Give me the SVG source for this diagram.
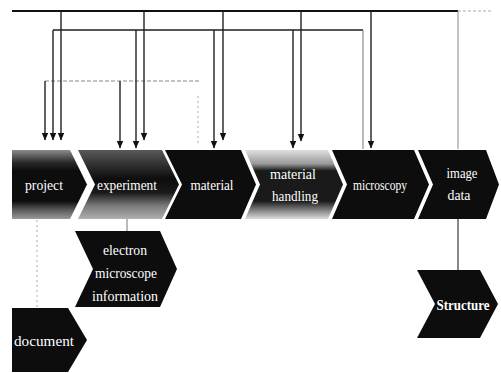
<svg xmlns="http://www.w3.org/2000/svg" width="501" height="373" viewBox="0 0 501 373">
<style>
.lbl{font-family:"Liberation Serif","Times New Roman",serif;font-size:15px;fill:#fff;text-anchor:middle}
.blk{fill:#0d0d0d}
.c{fill:none;stroke:#222;stroke-width:1.4}
.cg{fill:none;stroke:#777;stroke-width:1}
</style>
<defs>
<marker id="ah" markerUnits="userSpaceOnUse" markerWidth="7" markerHeight="8" refX="3.5" refY="7" orient="auto-start-reverse" viewBox="0 0 7 8">
<path d="M0,0 L7,0 L3.5,7.5 Z" fill="#111" transform="rotate(-90 3.5 4) translate(0,0)"/>
</marker>
<marker id="a" markerUnits="userSpaceOnUse" markerWidth="8" markerHeight="8" refX="7" refY="4" orient="auto" viewBox="0 0 8 8">
<path d="M0,0.8 L7.5,4 L0,7.2 Z" fill="#111"/>
</marker>
<linearGradient id="gP" x1="0" y1="0" x2="0" y2="1">
<stop offset="0" stop-color="#8c8c8c"/><stop offset="0.18" stop-color="#2a2a2a"/><stop offset="0.3" stop-color="#0d0d0d"/><stop offset="0.74" stop-color="#0d0d0d"/><stop offset="0.86" stop-color="#555"/><stop offset="1" stop-color="#9a9a9a"/>
</linearGradient>
<linearGradient id="gE" x1="0" y1="0" x2="0" y2="1">
<stop offset="0" stop-color="#5a5a5a"/><stop offset="0.25" stop-color="#2a2a2a"/><stop offset="0.42" stop-color="#0d0d0d"/><stop offset="0.62" stop-color="#1a1a1a"/><stop offset="0.8" stop-color="#777"/><stop offset="1" stop-color="#b0b0b0"/>
</linearGradient>
<linearGradient id="gM" x1="0" y1="0" x2="0" y2="1">
<stop offset="0" stop-color="#e0e0e0"/><stop offset="0.2" stop-color="#999"/><stop offset="0.3" stop-color="#1a1a1a"/><stop offset="0.74" stop-color="#1a1a1a"/><stop offset="0.88" stop-color="#888"/><stop offset="1" stop-color="#dcdcdc"/>
</linearGradient>
</defs>

<g id="connectors">
<path d="M12 11 H458" fill="none" stroke="#111" stroke-width="2"/>
<path d="M458 11 H492" fill="none" stroke="#aaa" stroke-width="1" stroke-dasharray="3 2"/>
<path d="M53 30 H363" fill="none" stroke="#555" stroke-width="1.8"/>
<path d="M363 30 V149" class="cg"/>
<path d="M45 81 H199" fill="none" stroke="#888" stroke-width="1" stroke-dasharray="4 2"/>
<path d="M198 96 V143" fill="none" stroke="#aaa" stroke-width="1" stroke-dasharray="2 3"/>
<path d="M458 11 V149" fill="none" stroke="#888" stroke-width="1"/>
<path d="M61 11 V140" class="c" marker-end="url(#a)"/>
<path d="M53 30 V140" class="c" marker-end="url(#a)"/>
<path d="M45 81 V140" class="c" marker-end="url(#a)"/>
<path d="M120 81 V148" class="c" marker-end="url(#a)"/>
<path d="M136 30 V148" class="c" marker-end="url(#a)"/>
<path d="M144 11 V140" class="c" marker-end="url(#a)"/>
<path d="M214 30 V148" class="c" marker-end="url(#a)"/>
<path d="M223 11 V140" class="c" marker-end="url(#a)"/>
<path d="M293 30 V148" class="c" marker-end="url(#a)"/>
<path d="M301 11 V141" class="c" marker-end="url(#a)"/>
<path d="M371 11 V148" class="c" marker-end="url(#a)"/>
<path d="M127 219 V231" class="cg"/>
<path d="M458 219 V270" fill="none" stroke="#111" stroke-width="1"/>
<path d="M37 220 V308" fill="none" stroke="#aaa" stroke-width="1" stroke-dasharray="2 3"/>
</g>

<g id="project">
<polygon points="12,150 70,150 87,184.5 70,219 12,219" fill="url(#gP)"/>
<text class="lbl" x="44" y="190" textLength="38" lengthAdjust="spacingAndGlyphs">project</text>
</g>
<g id="experiment">
<polygon points="78,150 162,150 179,184.5 162,219 78,219 95,184.5" fill="url(#gE)"/>
<text class="lbl" x="127" y="190" textLength="60" lengthAdjust="spacingAndGlyphs">experiment</text>
</g>
<g id="material">
<polygon class="blk" points="165,150 241,150 256,184.5 241,219 165,219 182,184.5"/>
<text class="lbl" x="212" y="190" textLength="43" lengthAdjust="spacingAndGlyphs">material</text>
</g>
<g id="material-handling">
<polygon points="245,150 328,150 343,184.5 328,219 245,219 260,184.5" fill="url(#gM)"/>
<text class="lbl" x="293" y="179" textLength="46" lengthAdjust="spacingAndGlyphs">material</text>
<text class="lbl" x="295" y="201" textLength="46" lengthAdjust="spacingAndGlyphs">handling</text>
</g>
<g id="microscopy">
<polygon class="blk" points="332,150 414,150 429,184.5 414,219 332,219 347,184.5"/>
<text class="lbl" x="380" y="190" textLength="54" lengthAdjust="spacingAndGlyphs">microscopy</text>
</g>
<g id="image-data">
<polygon class="blk" points="418,150 486,150 499,184.5 486,219 418,219 433,184.5"/>
<text class="lbl" x="462" y="178" textLength="31" lengthAdjust="spacingAndGlyphs">image</text>
<text class="lbl" x="459" y="200" textLength="23" lengthAdjust="spacingAndGlyphs">data</text>
</g>
<g id="electron-microscope-information">
<polygon class="blk" points="75,231 160,231 177,269 160,307 75,307 93,269"/>
<text class="lbl" x="125" y="255" textLength="44" lengthAdjust="spacingAndGlyphs">electron</text>
<text class="lbl" x="126" y="278" textLength="62" lengthAdjust="spacingAndGlyphs">microscope</text>
<text class="lbl" x="125" y="301" textLength="66" lengthAdjust="spacingAndGlyphs">information</text>
</g>
<g id="structure">
<polygon class="blk" points="417,270 480,270 498,304 480,338 417,338 435,304"/>
<text class="lbl" x="463" y="310" textLength="53" lengthAdjust="spacingAndGlyphs" font-weight="bold">Structure</text>
</g>
<g id="document">
<polygon class="blk" points="12,308 68,308 87,340 68,372 12,372"/>
<text class="lbl" x="44" y="346" textLength="60" lengthAdjust="spacingAndGlyphs">document</text>
</g>
</svg>
